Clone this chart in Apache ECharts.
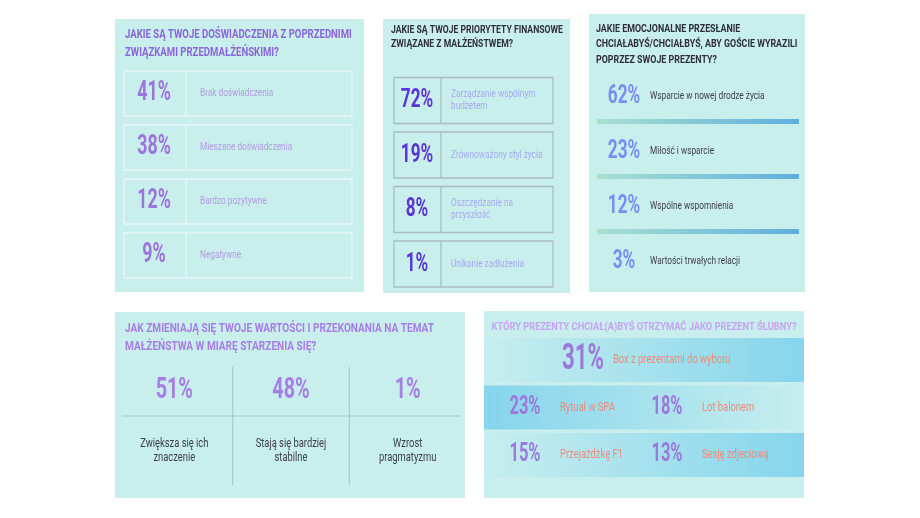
<!DOCTYPE html>
<html lang="pl">
<head>
<meta charset="UTF-8">
<title>Ankieta</title>
<script src="https://cdn.jsdelivr.net/npm/echarts@6/dist/echarts.min.js"></script>
<style>
    html, body { margin: 0; padding: 0; background: #fff; }
    #main { width: 920px; height: 518px; }
</style>
</head>
<body>
<div id="main"></div>
<script>
    // dane
    var expLabels = ['Brak doświadczenia', 'Mieszane doświadczenia', 'Bardzo pozytywne', 'Negatywne'];
    var expValues = [41, 38, 12, 9];

    var finLabels = ['Zarządzanie wspólnym\nbudżetem', 'Zrównoważony styl życia', 'Oszczędzanie na\nprzyszłość', 'Unikanie zadłużenia'];
    var finValues = [72, 19, 8, 1];

    var msgLabels = ['Wsparcie w nowej drodze życia', 'Miłość i wsparcie', 'Wspólne wspomnienia', 'Wartości trwałych relacji'];
    var msgValues = [62, 23, 12, 3];

    var ageLabels = ['Zwiększa się ich\nznaczenie', 'Stają się bardziej\nstabilne', 'Wzrost\npragmatyzmu'];
    var ageValues = [51, 48, 1];

    var giftLabels = ['Box z prezentami do wyboru', 'Rytuał w SPA', 'Lot balonem', 'Przejażdżkę F1', 'Sesję zdjeciową'];
    var giftValues = [31, 23, 18, 15, 13];
    var giftRows = [0, 1, 1, 2, 2];

    var FONT = 'Roboto, sans-serif';
    var BG = '#c9efec';

    function txt(x, y, text, o) {
        return {
            type: 'text', x: x, y: y, scaleX: o.sx || 0.7, z: 10,
            style: {
                text: text, x: 0, y: 0,
                fill: o.color, fontFamily: FONT, fontSize: o.size,
                fontWeight: o.weight || 'normal',
                align: o.align || 'left', verticalAlign: o.va || 'middle',
                lineHeight: o.lh || o.size * 1.2
            }
        };
    }

    function titleLines(x, ys, lines, o) {
        return lines.map(function (l, k) { return txt(x, ys[k], l, o); });
    }

    var myChart = echarts.init(document.getElementById('main'));

    var graphics = [
        { type: 'rect', shape: { x: 115, y: 19, width: 249, height: 273 }, style: { fill: BG }, z: 0 },
        { type: 'rect', shape: { x: 383, y: 19, width: 187, height: 274 }, style: { fill: BG }, z: 0 },
        { type: 'rect', shape: { x: 589, y: 14, width: 216, height: 278 }, style: { fill: BG }, z: 0 },
        { type: 'rect', shape: { x: 115, y: 312, width: 350, height: 186 }, style: { fill: BG }, z: 0 },
        { type: 'rect', shape: { x: 484, y: 311, width: 320, height: 187 }, style: { fill: '#c8eeed' }, z: 0 },
        { type: 'line', shape: { x1: 122, y1: 416, x2: 460, y2: 416 }, style: { stroke: '#a9c9c8', lineWidth: 1.2 }, z: 5 }
    ];
    graphics = graphics.concat(
        titleLines(125, [35, 52.7], ['JAKIE SĄ TWOJE DOŚWIADCZENIA Z POPRZEDNIMI', 'ZWIĄZKAMI PRZEDMAŁŻEŃSKIMI?'],
            { size: 12.5, color: '#8b65d9', weight: 'bold', sx: 0.765 }),
        titleLines(391, [30.2, 44.2], ['JAKIE SĄ TWOJE PRIORYTETY FINANSOWE', 'ZWIĄZANE Z MAŁŻEŃSTWEM?'],
            { size: 11.5, color: '#2f2f38', weight: 'bold', sx: 0.75 }),
        titleLines(596, [29.2, 44, 60], ['JAKIE EMOCJONALNE PRZESŁANIE', 'CHCIAŁABYŚ/CHCIAŁBYŚ, ABY GOŚCIE WYRAZILI', 'POPRZEZ SWOJE PREZENTY?'],
            { size: 11.5, color: '#2f2f38', weight: 'bold', sx: 0.77 }),
        titleLines(125, [328.5, 346.5], ['JAK ZMIENIAJĄ SIĘ TWOJE WARTOŚCI I PRZEKONANIA NA TEMAT', 'MAŁŻEŃSTWA W MIARĘ STARZENIA SIĘ?'],
            { size: 13, color: '#a67ee6', weight: 'bold', sx: 0.775 }),
        titleLines(644, [327], ['KTÓRY PREZENTY CHCIAŁ(A)BYŚ OTRZYMAĆ JAKO PREZENT ŚLUBNY?'],
            { size: 11, color: '#c6a5f0', weight: 'bold', sx: 0.845, align: 'center' })
    );

    function hiddenValueAxis(grid) {
        return { gridIndex: grid, type: 'value', min: 0, max: 100, show: false };
    }
    function hiddenCatAxis(grid, data) {
        return { gridIndex: grid, type: 'category', data: data, inverse: true, show: false };
    }

    // panel 1 - ramki
    function renderExp(params, api) {
        var i = params.dataIndex;
        var a = api.coord([0, i]), b = api.coord([100, i]);
        var h = 45, top = a[1] - h / 2, d = a[0] + 62;
        var stroke = '#e4f7f5';
        return {
            type: 'group', children: [
                { type: 'rect', shape: { x: a[0], y: top, width: b[0] - a[0], height: h }, style: { fill: 'none', stroke: stroke, lineWidth: 1.3 } },
                { type: 'line', shape: { x1: d, y1: top, x2: d, y2: top + h }, style: { stroke: stroke, lineWidth: 1.3 } },
                txt(a[0] + 30, a[1], api.value(0) + '%', { size: 27, color: '#9d74dc', weight: 'bold', align: 'center', sx: 0.66 }),
                txt(a[0] + 76, a[1], expLabels[i], { size: 11, color: '#b39be3', sx: 0.75 })
            ]
        };
    }

    // panel 2
    function renderFin(params, api) {
        var i = params.dataIndex;
        var a = api.coord([0, i]), b = api.coord([100, i]);
        var h = 46, top = a[1] - h / 2, d = a[0] + 47;
        var stroke = '#a9bdbf';
        return {
            type: 'group', children: [
                { type: 'rect', shape: { x: a[0], y: top, width: b[0] - a[0], height: h }, style: { fill: 'none', stroke: stroke, lineWidth: 1.3 } },
                { type: 'line', shape: { x1: d, y1: top, x2: d, y2: top + h }, style: { stroke: stroke, lineWidth: 1.3 } },
                txt(a[0] + 23, a[1], api.value(0) + '%', { size: 26, color: '#5b33d6', weight: 'bold', align: 'center', sx: 0.66 }),
                txt(a[0] + 57, a[1], finLabels[i], { size: 11, color: '#a4aaf0', sx: 0.75, lh: 12 })
            ]
        };
    }

    // panel 3
    function renderMsg(params, api) {
        var i = params.dataIndex;
        var a = api.coord([0, i]), b = api.coord([100, i]);
        var kids = [
            txt(a[0] + 27, a[1], api.value(0) + '%', { size: 26, color: '#7b8df3', weight: 'bold', align: 'center', sx: 0.66 }),
            txt(a[0] + 53, a[1], msgLabels[i], { size: 11.5, color: '#3e3e48', sx: 0.72 })
        ];
        if (i < msgValues.length - 1) {
            kids.push({
                type: 'rect', shape: { x: a[0], y: a[1] + 23, width: b[0] - a[0], height: 5 },
                style: {
                    fill: new echarts.graphic.LinearGradient(0, 0, 1, 0, [
                        { offset: 0, color: '#a9e0cf' }, { offset: 1, color: '#5eaede' }
                    ])
                }
            });
        }
        return { type: 'group', children: kids };
    }

    // panel 4
    function renderAge(params, api) {
        var i = params.dataIndex;
        var c = api.coord([i, 0]);
        var bw = api.size([1, 0])[0];
        var cs = params.coordSys;
        var kids = [
            txt(c[0], 390, api.value(1) + '%', { size: 30, color: '#a57fe6', weight: 'bold', align: 'center', sx: 0.66 }),
            txt(c[0], 451, ageLabels[i], { size: 12, color: '#3c3c48', align: 'center', sx: 0.78, lh: 13.5 })
        ];
        if (i > 0) {
            kids.push({ type: 'line', shape: { x1: c[0] - bw / 2, y1: cs.y, x2: c[0] - bw / 2, y2: cs.y + cs.height }, style: { stroke: '#a9c9c8', lineWidth: 1.2 } });
        }
        return { type: 'group', children: kids };
    }

    // panel 5
    function renderGift(params, api) {
        var i = params.dataIndex;
        var row = giftRows[i];
        var col = giftRows.slice(0, i).filter(function (r) { return r === row; }).length;
        var single = giftRows.filter(function (r) { return r === row; }).length === 1;
        var a = api.coord([0, row]), b = api.coord([100, row]);
        var kids = [];
        if (col === 0) {
            var strongRight = row % 2 === 0;
            kids.push({
                type: 'rect', shape: { x: a[0], y: a[1] - 22, width: b[0] - a[0], height: 44 },
                style: {
                    fill: new echarts.graphic.LinearGradient(0, 0, 1, 0, [
                        { offset: 0, color: strongRight ? '#c6eeee' : '#86d5ec' },
                        { offset: 1, color: strongRight ? '#86d5ec' : '#c6eeee' }
                    ])
                }
            });
        }
        if (single) {
            kids.push(txt(a[0] + 99, a[1], api.value(0) + '%', { size: 36, color: '#9b78db', weight: 'bold', align: 'center', sx: 0.62 }));
            kids.push(txt(a[0] + 129, a[1], giftLabels[i], { size: 12.5, color: '#ec8b7c', sx: 0.75 }));
        } else {
            var px = a[0] + 41 + col * 142;
            kids.push(txt(px, a[1], api.value(0) + '%', { size: 25, color: '#9b78db', weight: 'bold', align: 'center', sx: 0.66 }));
            kids.push(txt(px + 35, a[1], giftLabels[i], { size: 12.5, color: '#ec8b7c', sx: 0.75 }));
        }
        return { type: 'group', children: kids };
    }

    var option = {
        animation: false,
        graphic: graphics,
        grid: [
            { left: 124, top: 66.5, width: 228, height: 216 },
            { left: 394, top: 73.25, width: 159, height: 218 },
            { left: 597, top: 68.5, width: 202, height: 220 },
            { left: 116, top: 367, width: 350, height: 118 },
            { left: 484, top: 336.25, width: 320, height: 142.5 }
        ],
        xAxis: [
            hiddenValueAxis(0), hiddenValueAxis(1), hiddenValueAxis(2),
            { gridIndex: 3, type: 'category', data: ageLabels, show: false },
            hiddenValueAxis(4)
        ],
        yAxis: [
            hiddenCatAxis(0, expLabels), hiddenCatAxis(1, finLabels), hiddenCatAxis(2, msgLabels),
            hiddenValueAxis(3),
            hiddenCatAxis(4, ['r0', 'r1', 'r2'])
        ],
        series: [
            { type: 'custom', xAxisIndex: 0, yAxisIndex: 0, renderItem: renderExp, data: expValues.map(function (v, i) { return [v, i]; }) },
            { type: 'custom', xAxisIndex: 1, yAxisIndex: 1, renderItem: renderFin, data: finValues.map(function (v, i) { return [v, i]; }) },
            { type: 'custom', xAxisIndex: 2, yAxisIndex: 2, renderItem: renderMsg, data: msgValues.map(function (v, i) { return [v, i]; }) },
            { type: 'custom', xAxisIndex: 3, yAxisIndex: 3, renderItem: renderAge, data: ageValues.map(function (v, i) { return [i, v]; }) },
            { type: 'custom', xAxisIndex: 4, yAxisIndex: 4, renderItem: renderGift, data: giftValues.map(function (v, i) { return [v, giftRows[i]]; }) }
        ]
    };

    myChart.setOption(option);
</script>
</body>
</html>
